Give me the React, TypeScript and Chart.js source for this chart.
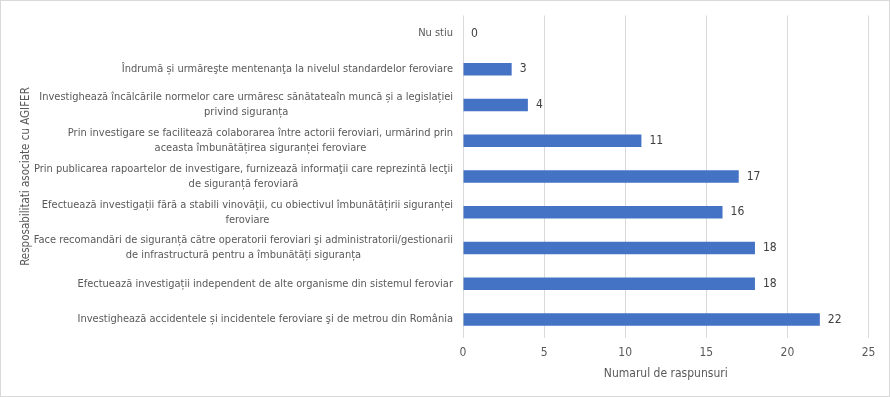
import React, { useEffect, useRef } from "react";
import { Chart, registerables } from "chart.js";
Chart.register(...registerables);

const categories: string[][] = [
  ["Nu stiu"],
  ["Îndrumă și urmăreşte mentenanţa la nivelul standardelor feroviare"],
  ["Investighează încălcările normelor care urmăresc sănătateaîn muncă și a legislației", "privind siguranța"],
  ["Prin investigare se facilitează colaborarea între actorii feroviari, urmărind prin", "aceasta îmbunătățirea siguranței feroviare"],
  ["Prin publicarea rapoartelor de investigare, furnizează informaţii care reprezintă lecţii", "de siguranță feroviară"],
  ["Efectuează investigații fără a stabili vinovăţii, cu obiectivul îmbunătățirii siguranței", "feroviare"],
  ["Face recomandări de siguranță către operatorii feroviari şi administratorii/gestionarii", "de infrastructură pentru a îmbunătăți siguranța"],
  ["Efectuează investigații independent de alte organisme din sistemul feroviar"],
  ["Investighează accidentele și incidentele feroviare şi de metrou din România"],
];
const values: number[] = [0, 3, 4, 11, 17, 16, 18, 18, 22];
const xTicks: number[] = [0, 5, 10, 15, 20, 25];
const xTitle = "Numarul de raspunsuri";
const yTitle = "Resposabilitati asociate cu AGIFER";

const FONT = "'Liberation Sans Narrow', 'DejaVu Sans Condensed', 'Liberation Sans', sans-serif";
const LABEL_COLOR = "#595959";

const labelPlugin = {
  id: "customLabels",
  afterDraw(chart: any) {
    const ctx = chart.ctx;
    const yScale = chart.scales.y;
    ctx.save();
    ctx.font = `11px ${FONT}`;
    ctx.fillStyle = LABEL_COLOR;
    ctx.textBaseline = "middle";
    ctx.textAlign = "center";
    const rightEdge = yScale.right - 10;
    const lh = 15;
    categories.forEach((lines, i) => {
      const cy = yScale.getPixelForValue(i);
      const maxW = Math.max(...lines.map((l) => ctx.measureText(l).width));
      const cx = rightEdge - maxW / 2;
      const y0 = cy - ((lines.length - 1) * lh) / 2;
      lines.forEach((l, j) => ctx.fillText(l, cx, y0 + j * lh));
    });
    // value labels
    ctx.font = `12px ${FONT}`;
    ctx.fillStyle = "#404040";
    ctx.textAlign = "left";
    const meta = chart.getDatasetMeta(0);
    meta.data.forEach((bar: any, i: number) => {
      ctx.fillText(String(values[i]), bar.x + 8, bar.y);
    });
    ctx.restore();
  },
};

export default function App() {
  const ref = useRef<HTMLCanvasElement>(null);
  useEffect(() => {
    if (!ref.current) return;
    const chart = new Chart(ref.current, {
      type: "bar",
      data: {
        labels: categories.map((c) => c.join(" ")),
        datasets: [
          {
            data: values,
            backgroundColor: "#4472C4",
            barPercentage: 0.7,
            categoryPercentage: 0.5,
          },
        ],
      },
      options: {
        indexAxis: "y",
        animation: false,
        responsive: false,
        maintainAspectRatio: false,
        layout: { padding: { left: 0, top: 14.5, right: 20.5, bottom: 0 } },
        plugins: { legend: { display: false }, tooltip: { enabled: false } },
        scales: {
          x: {
            min: 0,
            max: 25,
            afterBuildTicks: (scale: any) => {
              scale.ticks = xTicks.map((v) => ({ value: v }));
            },
            grid: { color: "#d9d9d9", drawTicks: false },
            border: { display: false },
            ticks: { color: LABEL_COLOR, font: { family: FONT, size: 12 }, padding: 8 },
            title: {
              display: true,
              text: xTitle,
              color: LABEL_COLOR,
              font: { family: FONT, size: 12 },
              padding: { top: 4, bottom: 15 },
            },
            afterFit: (scale: any) => {
              scale.height = 58.5;
            },
          },
          y: {
            grid: { display: false },
            border: { display: false },
            ticks: { display: false },
            title: {
              display: true,
              text: yTitle,
              color: LABEL_COLOR,
              font: { family: FONT, size: 11.5 },
              padding: { top: 18, bottom: 0 },
            },
            afterFit: (scale: any) => {
              scale.width = 462;
            },
          },
        },
      },
      plugins: [labelPlugin],
    });
    return () => chart.destroy();
  }, []);
  return (
    <div
      style={{
        position: "fixed",
        left: 0,
        top: 0,
        width: 890,
        height: 397,
        boxSizing: "border-box",
        border: "1px solid #d9d9d9",
        background: "#fff",
      }}
    >
      <canvas ref={ref} width={888} height={395} style={{ display: "block" }} />
    </div>
  );
}
